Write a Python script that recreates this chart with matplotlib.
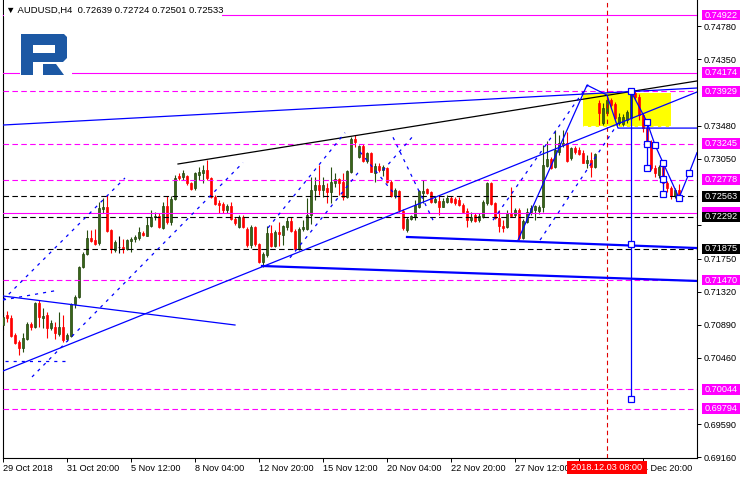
import numpy as np
import matplotlib
matplotlib.use("Agg")
import matplotlib.pyplot as plt
from matplotlib.patches import Rectangle, Polygon
from matplotlib.transforms import blended_transform_factory

plt.rcParams['font.family'] = ['Liberation Sans', 'DejaVu Sans']

# ---- data (H4 bars, index 0 = 29 Oct 04:00) ----
title_text = '▼ AUDUSD,H4  0.72639 0.72724 0.72501 0.72533'

opens = [
    .7088, .7102, .7097, .7075, .7066, .7058, .7070, .7090, .7086, .7117,
    .7098, .7102, .7085, .7086, .7077, .7086, .7070, .7074, .7116, .7125,
    .7164, .7181, .7202, .7199, .7195, .7240, .7242, .7212, .7186, .7190,
    .7190, .7187, .7198, .7201, .7202, .7208, .7204, .7217, .7229, .7230,
    .7215, .7244, .7223, .7253, .7283, .7281, .7283, .7273, .7267, .7284,
    .7286, .7290, .7280, .7255, .7247, .7246, .7238, .7244, .7227, .7216,
    .7229, .7214, .7193, .7216, .7194, .7171, .7180, .7208, .7191, .7210,
    .7206, .7216, .7224, .7211, .7187, .7214, .7214, .7232, .7264, .7271,
    .7264, .7267, .7262, .7273, .7279, .7275, .7255, .7288, .7331, .7307,
    .7322, .7302, .7312, .7286, .7296, .7290, .7293, .7275, .7256, .7263,
    .7237, .7212, .7227, .7229, .7242, .7260, .7266, .7262, .7249, .7250,
    .7242, .7249, .7254, .7253, .7251, .7245, .7237, .7225, .7232, .7225,
    .7229, .7247, .7273, .7247, .7228, .7217, .7216, .7234, .7232, .7238,
    .7202, .7223, .7236, .7238, .7237, .7242, .7296, .7305, .7294, .7314,
    .7323, .7326, .7306, .7319, .7316, .7312, .7300, .7303, .7294, .7378,
    .7352, .7365, .7382, .7376, .7352, .7350, .7355, .7358, .7391, .7386,
    .7362, .7345, .7327, .7293, .7284, .7294, .7273, .7267, .7256, .72639,
]
highs = [
    .7105, .7107, .7102, .7078, .7069, .7078, .7092, .7092, .7118, .7121,
    .7111, .7105, .7095, .7092, .7105, .7102, .7078, .7117, .7128, .7165,
    .7184, .7212, .7212, .7214, .7249, .7254, .7258, .7214, .7199, .7204,
    .7201, .7201, .7203, .7206, .7216, .7211, .7229, .7238, .7236, .7234,
    .7249, .7256, .7256, .7284, .7286, .7290, .7284, .7275, .7288, .7294,
    .7297, .7303, .7281, .7258, .7251, .7249, .7246, .7249, .7229, .7232,
    .7232, .7216, .7219, .7217, .7195, .7184, .7217, .7219, .7212, .7223,
    .7219, .7229, .7229, .7214, .7216, .7225, .7254, .7281, .7281, .7297,
    .7281, .7273, .7294, .7286, .7280, .7286, .7290, .7333, .7336, .7323,
    .7324, .7314, .7314, .7300, .7299, .7297, .7294, .7277, .7267, .7264,
    .7240, .7229, .7232, .7251, .7264, .7277, .7267, .7263, .7256, .7256,
    .7254, .7258, .7256, .7255, .7255, .7247, .7241, .7236, .7234, .7234,
    .7251, .7275, .7275, .7249, .7238, .7225, .7238, .7268, .7241, .7241,
    .7227, .7241, .7245, .7245, .7245, .7323, .7328, .7307, .7343, .7336,
    .7343, .7340, .7320, .7322, .7320, .7316, .7310, .7314, .7312, .7382,
    .7378, .7386, .7384, .7379, .7365, .7363, .7369, .7395, .7393, .7389,
    .7365, .7353, .7330, .7297, .7297, .7300, .7276, .7270, .7267, .72724,
]
lows = [
    .7082, .7092, .7073, .7064, .7049, .7053, .7069, .7082, .7085, .7086,
    .7085, .7072, .7082, .7070, .7074, .7066, .7068, .7073, .7111, .7124,
    .7163, .7180, .7197, .7193, .7193, .7234, .7210, .7182, .7184, .7182,
    .7182, .7186, .7184, .7197, .7199, .7204, .7204, .7216, .7225, .7215,
    .7214, .7220, .7219, .7251, .7277, .7277, .7271, .7264, .7264, .7277,
    .7273, .7277, .7254, .7245, .7234, .7234, .7234, .7225, .7219, .7215,
    .7215, .7190, .7189, .7191, .7169, .7164, .7177, .7190, .7190, .7191,
    .7193, .7212, .7210, .7186, .7186, .7211, .7212, .7220, .7251, .7258,
    .7255, .7247, .7247, .7268, .7258, .7251, .7254, .7286, .7320, .7306,
    .7301, .7300, .7288, .7275, .7288, .7283, .7273, .7255, .7254, .7236,
    .7212, .7210, .7225, .7225, .7241, .7247, .7259, .7247, .7247, .7232,
    .7242, .7247, .7247, .7245, .7244, .7234, .7216, .7223, .7223, .7223,
    .7228, .7245, .7245, .7227, .7210, .7210, .7215, .7229, .7229, .7199,
    .7201, .7221, .7232, .7225, .7233, .7236, .7294, .7292, .7293, .7310,
    .7320, .7301, .7303, .7311, .7310, .7300, .7293, .7281, .7293, .7349,
    .7349, .7362, .7372, .7355, .7349, .7348, .7352, .7355, .7382, .7355,
    .7340, .7323, .7290, .7281, .7280, .7268, .7262, .7253, .7254, .72501,
]
closes = [
    .7099, .7098, .7074, .7065, .7058, .7072, .7090, .7086, .7117, .7099,
    .7100, .7085, .7091, .7078, .7086, .7069, .7075, .7116, .7125, .7164,
    .7181, .7202, .7198, .7194, .7241, .7242, .7211, .7187, .7197, .7190,
    .7187, .7199, .7201, .7203, .7210, .7206, .7219, .7229, .7230, .7216,
    .7244, .7223, .7253, .7280, .7280, .7286, .7273, .7266, .7286, .7288,
    .7290, .7280, .7255, .7246, .7245, .7238, .7244, .7227, .7221, .7229,
    .7216, .7193, .7216, .7194, .7171, .7181, .7208, .7191, .7210, .7207,
    .7217, .7224, .7211, .7187, .7214, .7216, .7232, .7264, .7271, .7264,
    .7271, .7262, .7275, .7279, .7273, .7255, .7289, .7331, .7327, .7322,
    .7302, .7312, .7288, .7296, .7290, .7294, .7275, .7256, .7264, .7238,
    .7215, .7227, .7230, .7245, .7263, .7263, .7260, .7249, .7253, .7242,
    .7250, .7254, .7249, .7247, .7245, .7236, .7225, .7229, .7224, .7230,
    .7249, .7273, .7246, .7228, .7217, .7215, .7234, .7230, .7238, .7202,
    .7224, .7236, .7241, .7244, .7242, .7297, .7305, .7293, .7316, .7326,
    .7326, .7302, .7319, .7314, .7311, .7300, .7303, .7294, .7311, .7365,
    .7371, .7382, .7375, .7358, .7359, .7359, .7366, .7391, .7386, .7362,
    .7345, .7327, .7293, .7286, .7294, .7273, .7267, .7256, .7264, .72533,
]

# the 30 Nov 04:00 label sits under the red marker box, so it stays blank
time_tick_bars = [0, 16, 32, 48, 64, 80, 96, 112, 128, 144, 160]
time_tick_labels = ['29 Oct 2018', '31 Oct 20:00', '5 Nov 12:00', '8 Nov 04:00',
                    '12 Nov 20:00', '15 Nov 12:00', '20 Nov 04:00', '22 Nov 20:00',
                    '27 Nov 12:00', '', '4 Dec 20:00']
price_ticks = [0.74780, 0.74350, 0.73480, 0.73050, 0.72190, 0.71750,
               0.71320, 0.70890, 0.70460, 0.69590, 0.69160]
price_tick_labels = ['0.74780', '0.74350', '0.73480', '0.73050', '', '0.71750',
                     '0.71320', '0.70890', '0.70460', '0.69590', '0.69160']

magenta_solid = [0.74922, 0.74174, 0.72347]
magenta_dashed = [0.73929, 0.73245, 0.72778, 0.71470, 0.70044, 0.69794]
black_dashed = [0.72563, 0.72292, 0.71875]
hidden_labels = [0.72347]   # covered by the black labels in the reference

marker_bar = 151
marker_label = '2018.12.03 08:00'

# trend lines: (bars, prices)
black_trend = ([43.75, 173.5], [0.72982, 0.74064])
blue_trends = [
    ([0, 173.5], [0.70285, 0.73920]),
    ([0, 173.5], [0.73490, 0.73972]),
    ([0, 58], [0.71262, 0.70884]),
]
blue_thick = [
    ([64.75, 173.5], [0.71653, 0.71458]),
    ([101, 173.5], [0.72031, 0.71887]),
]
channel_dashed = [
    ([0, 30.5], [0.7121, 0.7280]),
    ([7.25, 60], [0.70207, 0.7300]),
    ([0, 13], [0.7121, 0.7133]),
    ([0.5, 16.25], [0.70415, 0.70415]),
    ([66.25, 85.5], [0.7215, 0.7339]),
    ([71.75, 89.25], [0.7176, 0.7290]),
    ([89.25, 98.5], [0.7314, 0.7255]),
    ([97.5, 107.5], [0.7333, 0.7225]),
    ([95, 102.25], [0.7290, 0.7333]),
    ([122.5, 146.75], [0.7225, 0.7405]),
    ([134.25, 154.25], [0.7199, 0.7355]),
]
wave_bars = [128.75, 146, 151, 153.75, 173.5]
wave_prices = [0.7199, 0.7401, 0.7388, 0.7345, 0.7345]

zone_bars = (145, 167)
zone_prices = (0.73464, 0.73907)

spike_bar = 157
spike_prices = [0.7393, 0.6992]
spike_marks = [0.7194, 0.6992]

fc_bars = [157, 161, 163, 165, 169, 171.5, 173.5]
fc_prices = [0.7393, 0.7353, 0.7323, 0.7300, 0.7254, 0.7286, 0.7313]
fc_vert = [(161, 0.7353, 0.7293), (165, 0.7300, 0.7259)]
fc_mark_bars = [157, 161, 161, 163, 161, 165, 165, 165, 169, 171.5]
fc_mark_prices = [0.7393, 0.7353, 0.7324, 0.7323, 0.7293, 0.7300, 0.7279, 0.7259, 0.7254, 0.7286]

# ---- figure ----
fig = plt.figure(figsize=(7.4, 4.8), dpi=100, facecolor='white')
ax = fig.add_axes([3 / 740, 22 / 480, 694 / 740, 458 / 480])
ax.set_xlim(0, 173.5)
ax.set_ylim(0.69151, 0.75119)

o = np.array(opens); h = np.array(highs); l = np.array(lows); c = np.array(closes)
bars = np.arange(len(c))
up = c > o
down = c < o
body_col = np.where(up, '#386619', np.where(down, '#ff0000', '#000000'))
edge_col = np.where(up, '#22440b', np.where(down, '#ff0000', '#000000'))
wick_col = np.where(up, '#264d10', np.where(down, '#ff0000', '#000000'))

# yellow zone behind candles
ax.add_patch(Rectangle((zone_bars[0], zone_prices[0]), zone_bars[1] - zone_bars[0],
                       zone_prices[1] - zone_prices[0], fc='#ffff00', ec='none', zorder=1))
ax.plot(zone_bars, [zone_prices[0] + 0.00012] * 2, color='white', lw=0.8,
        dashes=(4, 3), zorder=1.2)

ax.vlines(bars, l, h, colors=list(wick_col), linewidth=0.8, zorder=2)
ax.bar(bars, np.maximum(np.abs(c - o), 0.00002), bottom=np.minimum(o, c), width=0.74,
       color=list(body_col), edgecolor=list(edge_col), linewidth=0.5, zorder=3)

# horizontal levels
for p in magenta_solid:
    ax.axhline(p, color='#ff00ff', lw=0.8, zorder=4)
for p in magenta_dashed:
    ax.axhline(p, color='#ff00ff', lw=0.8, dashes=(5, 3), zorder=4)
for p in black_dashed:
    ax.axhline(p, color='black', lw=0.8, dashes=(5, 3), zorder=4)

ax.axvline(marker_bar, color='#e00000', lw=0.8, dashes=(4, 3), zorder=4)

# trend lines
ax.plot(*black_trend, color='black', lw=0.9, zorder=5)
for xs, ys in blue_trends:
    ax.plot(xs, ys, color='#0000ff', lw=0.9, zorder=5)
for xs, ys in blue_thick:
    ax.plot(xs, ys, color='#0000ff', lw=1.6, zorder=5)
for xs, ys in channel_dashed:
    ax.plot(xs, ys, color='#0000ff', lw=0.9, dashes=(2.5, 4), zorder=5)
ax.plot(wave_bars, wave_prices, color='#0000ff', lw=0.9, zorder=5)

# forecast
ax.plot([spike_bar, spike_bar], spike_prices, color='#0000ff', lw=0.9, zorder=5)
ax.plot([spike_bar] * len(spike_marks), spike_marks, ls='none', marker='s', ms=4,
        mfc='white', mec='#0000ff', mew=0.9, zorder=6)
ax.plot(fc_bars, fc_prices, color='#0000ff', lw=0.9, zorder=5)
for b, p0, p1 in fc_vert:
    ax.plot([b, b], [p0, p1], color='#0000ff', lw=0.9, zorder=5)
ax.plot(fc_mark_bars, fc_mark_prices, ls='none', marker='s', ms=4,
        mfc='white', mec='#0000ff', mew=0.9, zorder=6)

# axes look
for side in ['left', 'bottom', 'right']:
    ax.spines[side].set_linewidth(0.8)
ax.spines['top'].set_visible(False)
ax.yaxis.tick_right()
ax.set_yticks(price_ticks)
ax.set_yticklabels(price_tick_labels)
ax.tick_params(axis='y', length=3, width=0.7, pad=1.5, labelsize=6.6)
ax.set_xticks(time_tick_bars)
ax.set_xticklabels(time_tick_labels, ha='left')
ax.tick_params(axis='x', length=3, width=0.7, pad=1.5, labelsize=6.6)

# price labels on the right
lab_tr = blended_transform_factory(ax.transAxes, ax.transData)


def price_label(p, bg, z):
    ax.add_patch(Rectangle((1.0068, p - 0.0007), 0.056, 0.0014, transform=lab_tr,
                           fc=bg, ec='none', clip_on=False, zorder=z))
    if p in hidden_labels:
        return
    ax.text(1.0105, p, f'{p:.5f}', transform=lab_tr, color='white', fontsize=6.6,
            va='center', ha='left', zorder=z + 0.1, clip_on=False)


for p in magenta_solid + magenta_dashed:
    price_label(p, '#ff00ff', 6)
for p in black_dashed:
    price_label(p, 'black', 7)

# time marker label
time_tr = blended_transform_factory(ax.transData, ax.transAxes)
ax.add_patch(Rectangle((marker_bar - 10, -0.0349), 20, 0.0284, transform=time_tr,
                       fc='#ff0000', ec='none', clip_on=False, zorder=6))
ax.text(marker_bar, -0.0207, marker_label, transform=time_tr, color='white',
        fontsize=6.6, ha='center', va='center', zorder=6.1, clip_on=False)


# title and logo (figure pixel coords, top-left origin)
def px(x, y):
    return (x / 740, 1 - y / 480)


fig.add_artist(Rectangle(px(4, 17), 218 / 740, 17 / 480, transform=fig.transFigure,
                         fc='white', ec='none', zorder=2))
fig.text(*px(6, 10), title_text, fontsize=6.8, va='center', ha='left', zorder=3)

fig.add_artist(Rectangle(px(20, 80), 52 / 740, 50 / 480, transform=fig.transFigure,
                         fc='white', ec='none', zorder=2))
logo_col = '#1c58a4'
logo_parts = [
    [(21, 34), (64, 34), (67, 37), (67, 58), (63, 62), (33, 62), (33, 75), (21, 75)],
    [(43, 64), (56, 64), (64, 75), (43, 75)],
]
for part in logo_parts:
    fig.add_artist(Polygon([px(*pt) for pt in part], closed=True, transform=fig.transFigure,
                           fc=logo_col, ec='none', zorder=3))
fig.add_artist(Rectangle(px(33, 53), 22 / 740, 8 / 480, transform=fig.transFigure,
                         fc='white', ec='none', zorder=4))

fig.savefig('out.png', dpi=100, facecolor='white')
